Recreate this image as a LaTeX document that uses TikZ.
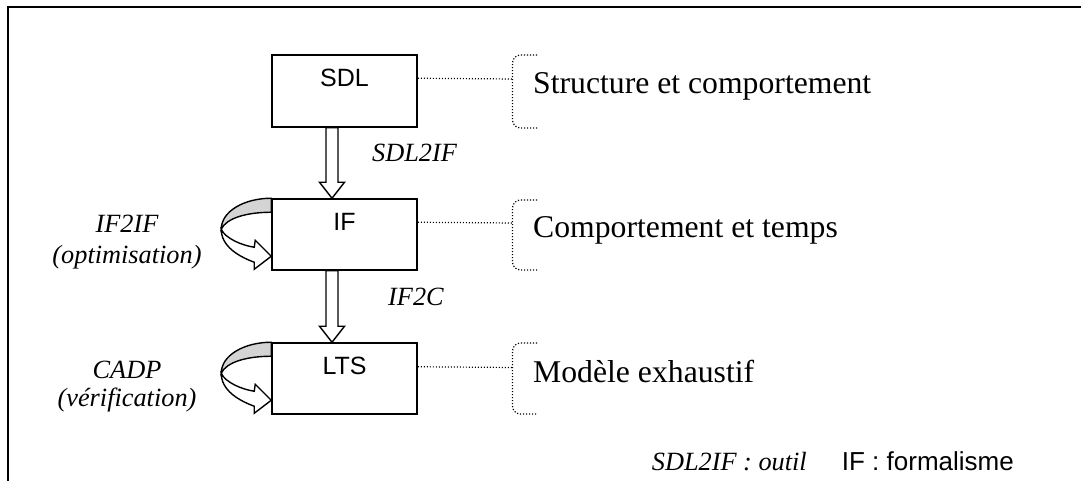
\documentclass[tikz,border=0pt]{standalone}
\usepackage{fontspec}
\setmainfont{Liberation Serif}
\setsansfont{Liberation Sans}
\usetikzlibrary{calc}
\definecolor{backgray}{HTML}{D4D4D4}
\tikzset{
  box/.style={draw, line width=1.5pt, minimum width=145pt, minimum height=72pt, inner sep=0pt},
  boxtext/.style={font=\sffamily\fontsize{25}{29}\selectfont, anchor=base, inner sep=0pt},
  desc/.style={font=\fontsize{31.7}{38}\selectfont, anchor=base west, inner sep=0pt},
  tool/.style={font=\itshape\fontsize{26.3}{31}\selectfont, inner sep=0pt},
  dotline/.style={line width=1.2pt, dash pattern=on 1.2pt off 1.8pt},
  blockarrow/.style={draw, fill=white, line width=1.4pt, line join=miter},
  loopback/.style={draw, fill=backgray, line width=1.4pt},
  loopfront/.style={draw, fill=white, line width=1.4pt, line join=miter},
}
\newcommand\blockdown[2]{%
  \path[blockarrow] let \p1=($(#1.south)+(-12.5pt,0)$), \p2=($(#2.north)+(-12.5pt,0)$) in
    (\x1-6pt,\y1) -- (\x1-6pt,\y2+16pt) -- (\x1-12.5pt,\y2+16pt) -- (\x1,\y2)
    -- (\x1+12.5pt,\y2+16pt) -- (\x1+6pt,\y2+16pt) -- (\x1+6pt,\y1) -- cycle;}
\newcommand\selfloop[1]{%
  \begin{scope}[shift={(#1.north west)}]
    \path[loopback] (0,0) .. controls (-27,0) and (-50,13) .. (-50,31)
      .. controls (-45,20) and (-25,14) .. (0,14) -- cycle;
    \path[loopfront] (-50,31) .. controls (-50,48) and (-33,58) .. (-17,64)
      -- (-17,71) -- (0,58) -- (-16,42) -- (-17,49)
      .. controls (-30,47) and (-46,40) .. (-50,31) -- cycle;
  \end{scope}}
\begin{document}
\begin{tikzpicture}[x=1pt, y=-1pt]
\useasboundingbox (0,0) rectangle (1081,481);
% outer frame
\draw[line width=2pt] (8,481) -- (8,7.5) -- (1081,7.5);
% boxes
\node[box] (sdl) at (344.5,91) {};
\node[box, minimum height=71pt] (if) at (344.5,234.5) {};
\node[box, minimum height=71pt] (lts) at (344.5,378.5) {};
\node[boxtext] (sdlt) at (344.5,86.7) {SDL};
\node[boxtext] (ift) at (344.5,230) {IF};
\node[boxtext] (ltst) at (344.5,374) {LTS};
% block arrows
\blockdown{sdl}{if}
\blockdown{if}{lts}
\node[tool, anchor=base west] (l1) at (372,161.7) {SDL2IF};
\node[tool, anchor=base west] (l2) at (388,305) {IF2C};
% self loops
\selfloop{if}
\selfloop{lts}
\node[tool, anchor=base] (o1) at (127,233) {IF2IF};
\node[tool, anchor=base] (o2) at (127,263) {(optimisation)};
\node[tool, anchor=base] (v1) at (127,378) {CADP};
\node[tool, anchor=base] (v2) at (127,406.7) {(vérification)};
% brackets
\coordinate (b1) at (512.5,79);
\coordinate (b2) at (512.5,223);
\coordinate (b3) at (512.5,367.5);
\draw[dotline, rounded corners=8pt] (537,55) -- (512.5,55) -- (512.5,128) -- (537,128);
\draw[dotline, rounded corners=8pt] (537,200) -- (512.5,200) -- (512.5,270) -- (537,270);
\draw[dotline, rounded corners=8pt] (537,343) -- (512.5,343) -- (512.5,414) -- (537,414);
\draw[dotline] (sdl.north east) ++(0,24) -- (b1);
\draw[dotline] (if.north east) ++(0,24) -- (b2);
\draw[dotline] (lts.north east) ++(0,24.5) -- (b3);
\node[desc] (d1) at (533,94) {Structure et comportement};
\node[desc] (d2) at (533,237) {Comportement et temps};
\node[desc] (d3) at (533,382) {Modèle exhaustif};
% legend
\node[tool, anchor=base west] (f1) at (651.7,470) {SDL2IF : outil};
\node[boxtext, anchor=base west, font=\sffamily\fontsize{26}{30}\selectfont] (f2) at (841.7,470) {IF : formalisme};
\end{tikzpicture}
\end{document}
